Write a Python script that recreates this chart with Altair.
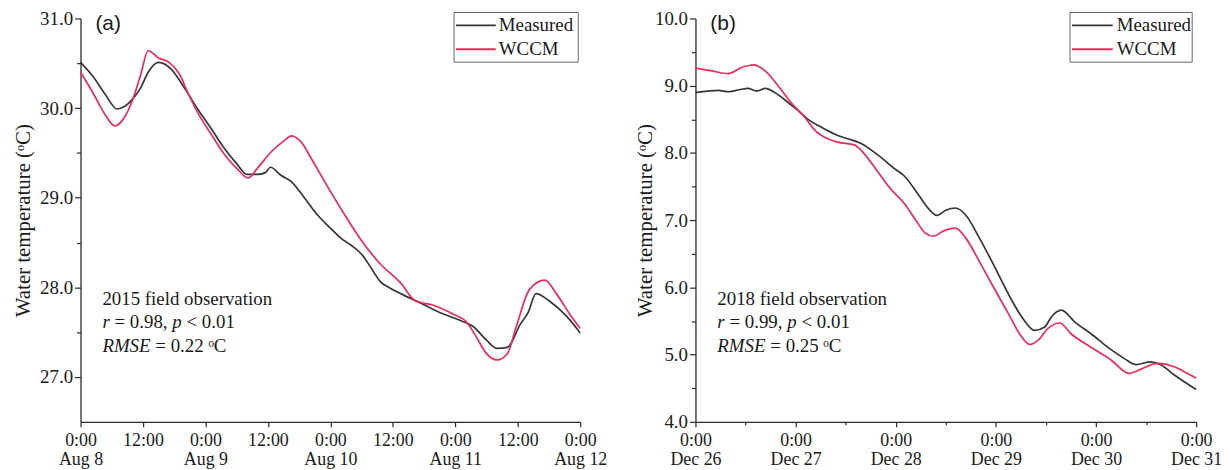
import json
import altair as alt
import pandas as pd

# ---------------- data ----------------
SERIES = ["Measured", "WCCM"]
COLORS = ["#363636", "#ee2a5c"]

# Panel (a): hours since Aug 8 0:00
a_meas_h = [0, 2.3, 4.8, 7, 8.5, 10, 11.5, 13, 15, 17.5, 20, 22.5, 25, 27.5, 30, 32, 34, 35.5, 36.5,
            38.5, 40.5, 43, 45.5, 48, 50, 52, 54, 56, 57.5, 59.5, 61.5, 65.5, 69, 73, 75.5, 78, 80, 82,
            84.5, 86, 87.5, 90, 93.5, 96]
a_meas_t = [30.51, 30.36, 30.15, 29.99, 30.02, 30.10, 30.22, 30.40, 30.51, 30.43, 30.22, 29.99, 29.78,
            29.56, 29.38, 29.26, 29.26, 29.28, 29.34, 29.25, 29.18, 29.00, 28.81, 28.66, 28.55, 28.47,
            28.37, 28.20, 28.07, 27.99, 27.93, 27.82, 27.72, 27.63, 27.56, 27.41, 27.32, 27.33, 27.59,
            27.72, 27.93, 27.85, 27.67, 27.49]
a_wccm_h = [0, 2.3, 4.8, 6.6, 8, 10, 11.5, 13, 15, 17, 19, 20.7, 22.6, 25.2, 27.7, 30.3, 32.2, 34,
            36.6, 39.2, 40.5, 42.4, 44.3, 46.5, 48, 50, 54, 57.6, 61.5, 64.3, 67.8, 71.6, 74.2, 76,
            78, 80, 82, 83.7, 86.3, 89.2, 91.4, 94, 96]
a_wccm_t = [30.40, 30.18, 29.92, 29.80, 29.86, 30.09, 30.36, 30.64, 30.56, 30.51, 30.38, 30.16, 29.94,
            29.70, 29.48, 29.31, 29.22, 29.33, 29.51, 29.64, 29.69, 29.62, 29.44, 29.22, 29.07, 28.88,
            28.52, 28.26, 28.05, 27.85, 27.80, 27.70, 27.61, 27.45, 27.26, 27.19, 27.26, 27.56, 27.98,
            28.08, 27.93, 27.70, 27.54]

# Panel (b): hours since Dec 26 0:00
b_meas_h = [0, 3, 5.5, 8, 10.5, 12.6, 14.7, 16.7, 19, 22.2, 24.6, 27.4, 30.2, 33.7, 36.5, 39.7, 43.7,
            47.6, 50, 53.4, 56, 57.8, 60.1, 62.3, 64.7, 68, 71, 75, 78.2, 81.3, 83.7, 85.3, 87.7, 91,
            94.8, 98.8, 102.8, 105.6, 109, 111.5, 114.7, 120]
b_meas_t = [8.90, 8.92, 8.93, 8.91, 8.94, 8.96, 8.92, 8.96, 8.90, 8.75, 8.63, 8.48, 8.38, 8.27, 8.21,
            8.14, 7.97, 7.77, 7.66, 7.38, 7.16, 7.07, 7.15, 7.18, 7.08, 6.74, 6.39, 5.90, 5.56, 5.36,
            5.41, 5.56, 5.66, 5.48, 5.31, 5.11, 4.94, 4.85, 4.89, 4.85, 4.70, 4.48]
b_wccm_h = [0, 3.9, 7.9, 11.1, 13.9, 16.7, 19.8, 22.9, 26.2, 28.9, 31.7, 34.1, 38.1, 40.4, 43.7, 46.7,
            50, 53, 55, 57, 59.5, 62.3, 64.7, 68, 71, 75, 78.2, 80.1, 82.1, 84.5, 87.3, 90, 94.8, 99.6,
            103.9, 106.7, 110.7, 114.7, 117, 120]
b_wccm_t = [9.26, 9.22, 9.18, 9.27, 9.31, 9.22, 9.00, 8.75, 8.53, 8.32, 8.21, 8.16, 8.12, 7.99, 7.72,
            7.47, 7.25, 6.98, 6.81, 6.76, 6.84, 6.88, 6.74, 6.39, 6.05, 5.61, 5.26, 5.15, 5.21, 5.39,
            5.47, 5.31, 5.11, 4.92, 4.72, 4.78, 4.87, 4.82, 4.75, 4.65]

a_days = ["Aug 8", "Aug 9", "Aug 10", "Aug 11", "Aug 12"]
b_days = ["Dec 26", "Dec 27", "Dec 28", "Dec 29", "Dec 30", "Dec 31"]
a_yticks = [27.0, 27.5, 28.0, 28.5, 29.0, 29.5, 30.0, 30.5, 31.0]
b_yticks = [4.0, 4.5, 5.0, 5.5, 6.0, 6.5, 7.0, 7.5, 8.0, 8.5, 9.0, 9.5, 10.0]

a_label, b_label = "(a)", "(b)"
a_obs, b_obs = "2015 field observation", "2018 field observation"
a_r, b_r = "= 0.98,", "= 0.99,"
p_txt = "< 0.01"
a_rmse, b_rmse = "= 0.22 \u1d52C", "= 0.25 \u1d52C"
Y_TITLE = "Water temperature (\u1d52C)"

# ---------------- styling ----------------
SERIF = "Liberation Serif"
SANS = "Liberation Sans"
INK = "#1a1a1a"
AXC = "#2a2a2a"


def frame(h, t, name):
    return pd.DataFrame({"h": h, "t": t, "series": name})


def text_at(txt, x, y, size=19, italic=False, font=SERIF, color=INK):
    return alt.Chart(pd.DataFrame({"t": [txt]})).mark_text(
        align="left", baseline="middle", font=font, fontSize=size,
        fontStyle="italic" if italic else "normal", color=color
    ).encode(x=alt.value(x), y=alt.value(y), text="t:N")


def legend_layers(lx, ly, bw, bh, sym_len, lab_x):
    one = pd.DataFrame({"a": [0]})
    box = alt.Chart(one).mark_rect(fill="white", stroke="#666666", strokeWidth=1).encode(
        x=alt.value(lx), x2=alt.value(lx + bw), y=alt.value(ly), y2=alt.value(ly + bh))
    out = [box]
    for i, (name, col) in enumerate(zip(SERIES, COLORS)):
        yy = ly + 13 + 24 * i
        out.append(alt.Chart(one).mark_rule(color=col, strokeWidth=1.8).encode(
            x=alt.value(lx + 2), x2=alt.value(lx + 2 + sym_len), y=alt.value(yy)))
        out.append(text_at(name, lab_x, yy, size=19))
    return out


def panel(df, xmax, ydom, yticks, days, minor_noon, legend_x, legend_w, sym_len, lab_off,
          label, obs, rtxt, rmse, title_pad, w, h):
    days_js = json.dumps(days)
    if minor_noon:
        lab = f"datum.value % 24 == 0 ? ['0:00', {days_js}[datum.value / 24]] : ''"
        xtick = {"condition": {"test": "datum.value % 24 == 0", "value": 5}, "value": 3}
    else:
        lab = f"datum.value % 24 == 0 ? ['0:00', {days_js}[datum.value / 24]] : '12:00'"
        xtick = 5
    xaxis = alt.Axis(values=list(range(0, xmax + 1, 12)), labelExpr=lab, title=None, grid=False,
                     tickSize=xtick, labelPadding=5, labelFlush=False, labelOverlap=False,
                     labelFont=SERIF, labelFontSize=18, labelColor=INK, labelLineHeight=19,
                     domainColor=AXC, tickColor=AXC, domainWidth=1.3, tickWidth=1.2)
    yaxis = alt.Axis(values=yticks, labelExpr="datum.value % 1 == 0 ? format(datum.value, '.1f') : ''",
                     title=Y_TITLE, titleFont=SERIF, titleFontSize=21, titleFontWeight="normal",
                     titleColor=INK, titlePadding=title_pad, grid=False,
                     tickSize={"condition": {"test": "datum.value % 1 == 0", "value": 6}, "value": 4},
                     labelPadding=2, labelFont=SERIF, labelFontSize=19, labelColor=INK,
                     domainColor=AXC, tickColor=AXC, domainWidth=1.3, tickWidth=1.2)
    lines = alt.Chart(df).mark_line(strokeWidth=1.7, interpolate="monotone").encode(
        x=alt.X("h:Q", scale=alt.Scale(domain=[0, xmax], nice=False, zero=False), axis=xaxis),
        y=alt.Y("t:Q", scale=alt.Scale(domain=ydom, nice=False, zero=False), axis=yaxis),
        color=alt.Color("series:N", scale=alt.Scale(domain=SERIES, range=COLORS), legend=None),
        detail="series:N",
    )
    x0 = 22
    layers = [
        lines,
        text_at(label, 15, 6, size=21, font=SANS),
        text_at(obs, x0, 282),
        text_at("r", x0, 306, italic=True),
        text_at(rtxt, x0 + 12.2, 306),
        text_at("p", x0 + 70.4, 306, italic=True),
        text_at(p_txt, x0 + 84.7, 306),
        text_at("RMSE", x0, 330, italic=True),
        text_at(rmse, x0 + 53.3, 330),
    ] + legend_layers(legend_x, -6, legend_w, 50, sym_len, legend_x + lab_off)
    return alt.layer(*layers).properties(width=w, height=h)


left = panel(pd.concat([frame(a_meas_h, a_meas_t, "Measured"), frame(a_wccm_h, a_wccm_t, "WCCM")]),
             96, [26.5, 31.0], a_yticks, a_days, False, 376, 125, 40, 45,
             a_label, a_obs, a_r, a_rmse, 6, 503, 406)
right = panel(pd.concat([frame(b_meas_h, b_meas_t, "Measured"), frame(b_wccm_h, b_wccm_t, "WCCM")]),
              120, [4.0, 10.0], b_yticks, b_days, True, 377, 123, 41, 47,
              b_label, b_obs, b_r, b_rmse, -1, 504, 406)

chart = alt.hconcat(left, right, spacing=116, bounds="flush").properties(
    padding={"left": 4, "top": 0, "right": 0, "bottom": 0}, background="white"
).configure_view(stroke=None)

chart.save("out.html", embed_options={"renderer": "svg", "actions": False})
